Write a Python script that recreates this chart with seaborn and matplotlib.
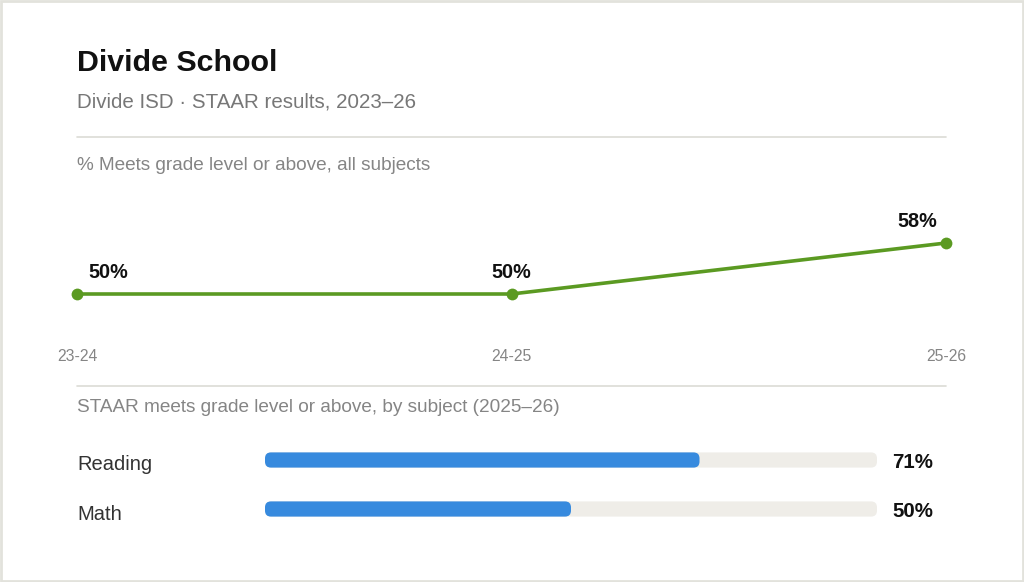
import numpy as np
import pandas as pd
import matplotlib
matplotlib.use("Agg")
import matplotlib.pyplot as plt
from matplotlib.patches import FancyBboxPatch, Rectangle
import seaborn as sns

# data
school = "Divide School"
subtitle = "Divide ISD \u00b7 STAAR results, 2023\u201326"
years = ["23-24", "24-25", "25-26"]
meets_pct = [50, 50, 58]
subjects = ["Reading", "Math"]
subject_pct = [71, 50]

green = "#5b9a22"
blue = "#378ade"
track = "#efede8"
grey_txt = "#858585"
rule = "#dcdcd6"

sns.set_theme(style="white")
plt.rcParams["font.family"] = ["Liberation Sans", "DejaVu Sans"]

W, H = 1024, 582
fig = plt.figure(figsize=(W / 100, H / 100), dpi=100)
fig.patch.set_facecolor("white")


def px(x0, y0, x1, y1):
    # pixel box (top-left origin) -> figure fraction rect
    return [x0 / W, 1 - y1 / H, (x1 - x0) / W, (y1 - y0) / H]


# outer frame
fig.add_artist(Rectangle((0.001, 0.0015), 0.998, 0.997, transform=fig.transFigure,
                         fill=False, edgecolor="#e2e2dc", linewidth=2))

# header texts
fig.text(77 / W, 1 - 63 / H, school, fontsize=21.9, fontweight="bold", color="#111111", va="center")
fig.text(77 / W, 1 - 102 / H, subtitle, fontsize=14.75, color="#777777", va="center")
fig.add_artist(plt.Line2D([77 / W, 946 / W], [1 - 137 / H] * 2, color=rule, lw=1.2))
fig.text(77 / W, 1 - 166 / H, "% Meets grade level or above, all subjects", fontsize=13.7,
         color=grey_txt, va="center")

# line chart
ax = fig.add_axes(px(77, 180, 946, 340))
sns.lineplot(x=years, y=meets_pct, ax=ax, color=green, linewidth=2.6, marker="o",
             markersize=8.5, markeredgewidth=0, clip_on=False)
ax.set_xlim(0, 2)
ax.set_ylim(50 - 46 / 6.375, 50 + 114 / 6.375)
ax.set_yticks([])
ax.set_xticks(range(len(years)))
ax.set_xticklabels(years, fontsize=11.3, color=grey_txt)
ax.tick_params(axis="x", length=0, pad=6.5)
for s in ax.spines.values():
    s.set_visible(False)
ax.set_xlabel("")
ax.set_ylabel("")

for i, v in enumerate(meets_pct):
    if i == 0:
        ha, dx = "left", 8
    elif i == len(meets_pct) - 1:
        ha, dx = "right", -6.5
    else:
        ha, dx = "center", 0
    ax.annotate(f"{v}%", (i, v), xytext=(dx, 15.2), textcoords="offset points",
                ha=ha, va="center", fontsize=14.3, fontweight="bold", color="#111111")

# divider + second section
fig.add_artist(plt.Line2D([77 / W, 946 / W], [1 - 386 / H] * 2, color=rule, lw=1.2))
fig.text(77 / W, 1 - 407 / H, "STAAR meets grade level or above, by subject (2025\u201326)",
         fontsize=13.7, color=grey_txt, va="center")

bx = fig.add_axes(px(265, 435.5, 877, 533.5))
df = pd.DataFrame({"subject": subjects, "pct": subject_pct, "full": [100] * len(subjects)})
sns.barplot(data=df, x="full", y="subject", ax=bx, color=track, width=0.31, saturation=1)
sns.barplot(data=df, x="pct", y="subject", ax=bx, color=blue, width=0.31, saturation=1)
bx.set_xlim(0, 100)
bx.set_ylim(len(subjects) - 0.5, -0.5)
bx.axis("off")

# rounded ends on the bars
fig.canvas.draw()
xpx = bx.transData.transform((1, 0))[0] - bx.transData.transform((0, 0))[0]
ypx = abs(bx.transData.transform((0, 1))[1] - bx.transData.transform((0, 0))[1])
r_px = 6
for p in list(bx.patches):
    x0, y0 = p.get_x(), p.get_y()
    w, h = p.get_width(), p.get_height()
    fb = FancyBboxPatch((x0, y0), w, h,
                        boxstyle=f"round,pad=0,rounding_size={r_px / xpx}",
                        mutation_aspect=xpx / ypx,
                        facecolor=p.get_facecolor(), edgecolor="none", linewidth=0)
    p.remove()
    bx.add_patch(fb)

for i, (name, v) in enumerate(zip(subjects, subject_pct)):
    y = 1 - (465 + 49 * i) / H
    fig.text(77 / W, y, name, fontsize=14.5, color="#333333", va="center")
    bx.annotate(f"{v}%", (100, i), xytext=(11, -1.8), textcoords="offset points",
                ha="left", va="center", fontsize=14.8, fontweight="bold", color="#111111",
                annotation_clip=False)

fig.savefig("out.png", dpi=100, facecolor="white")
